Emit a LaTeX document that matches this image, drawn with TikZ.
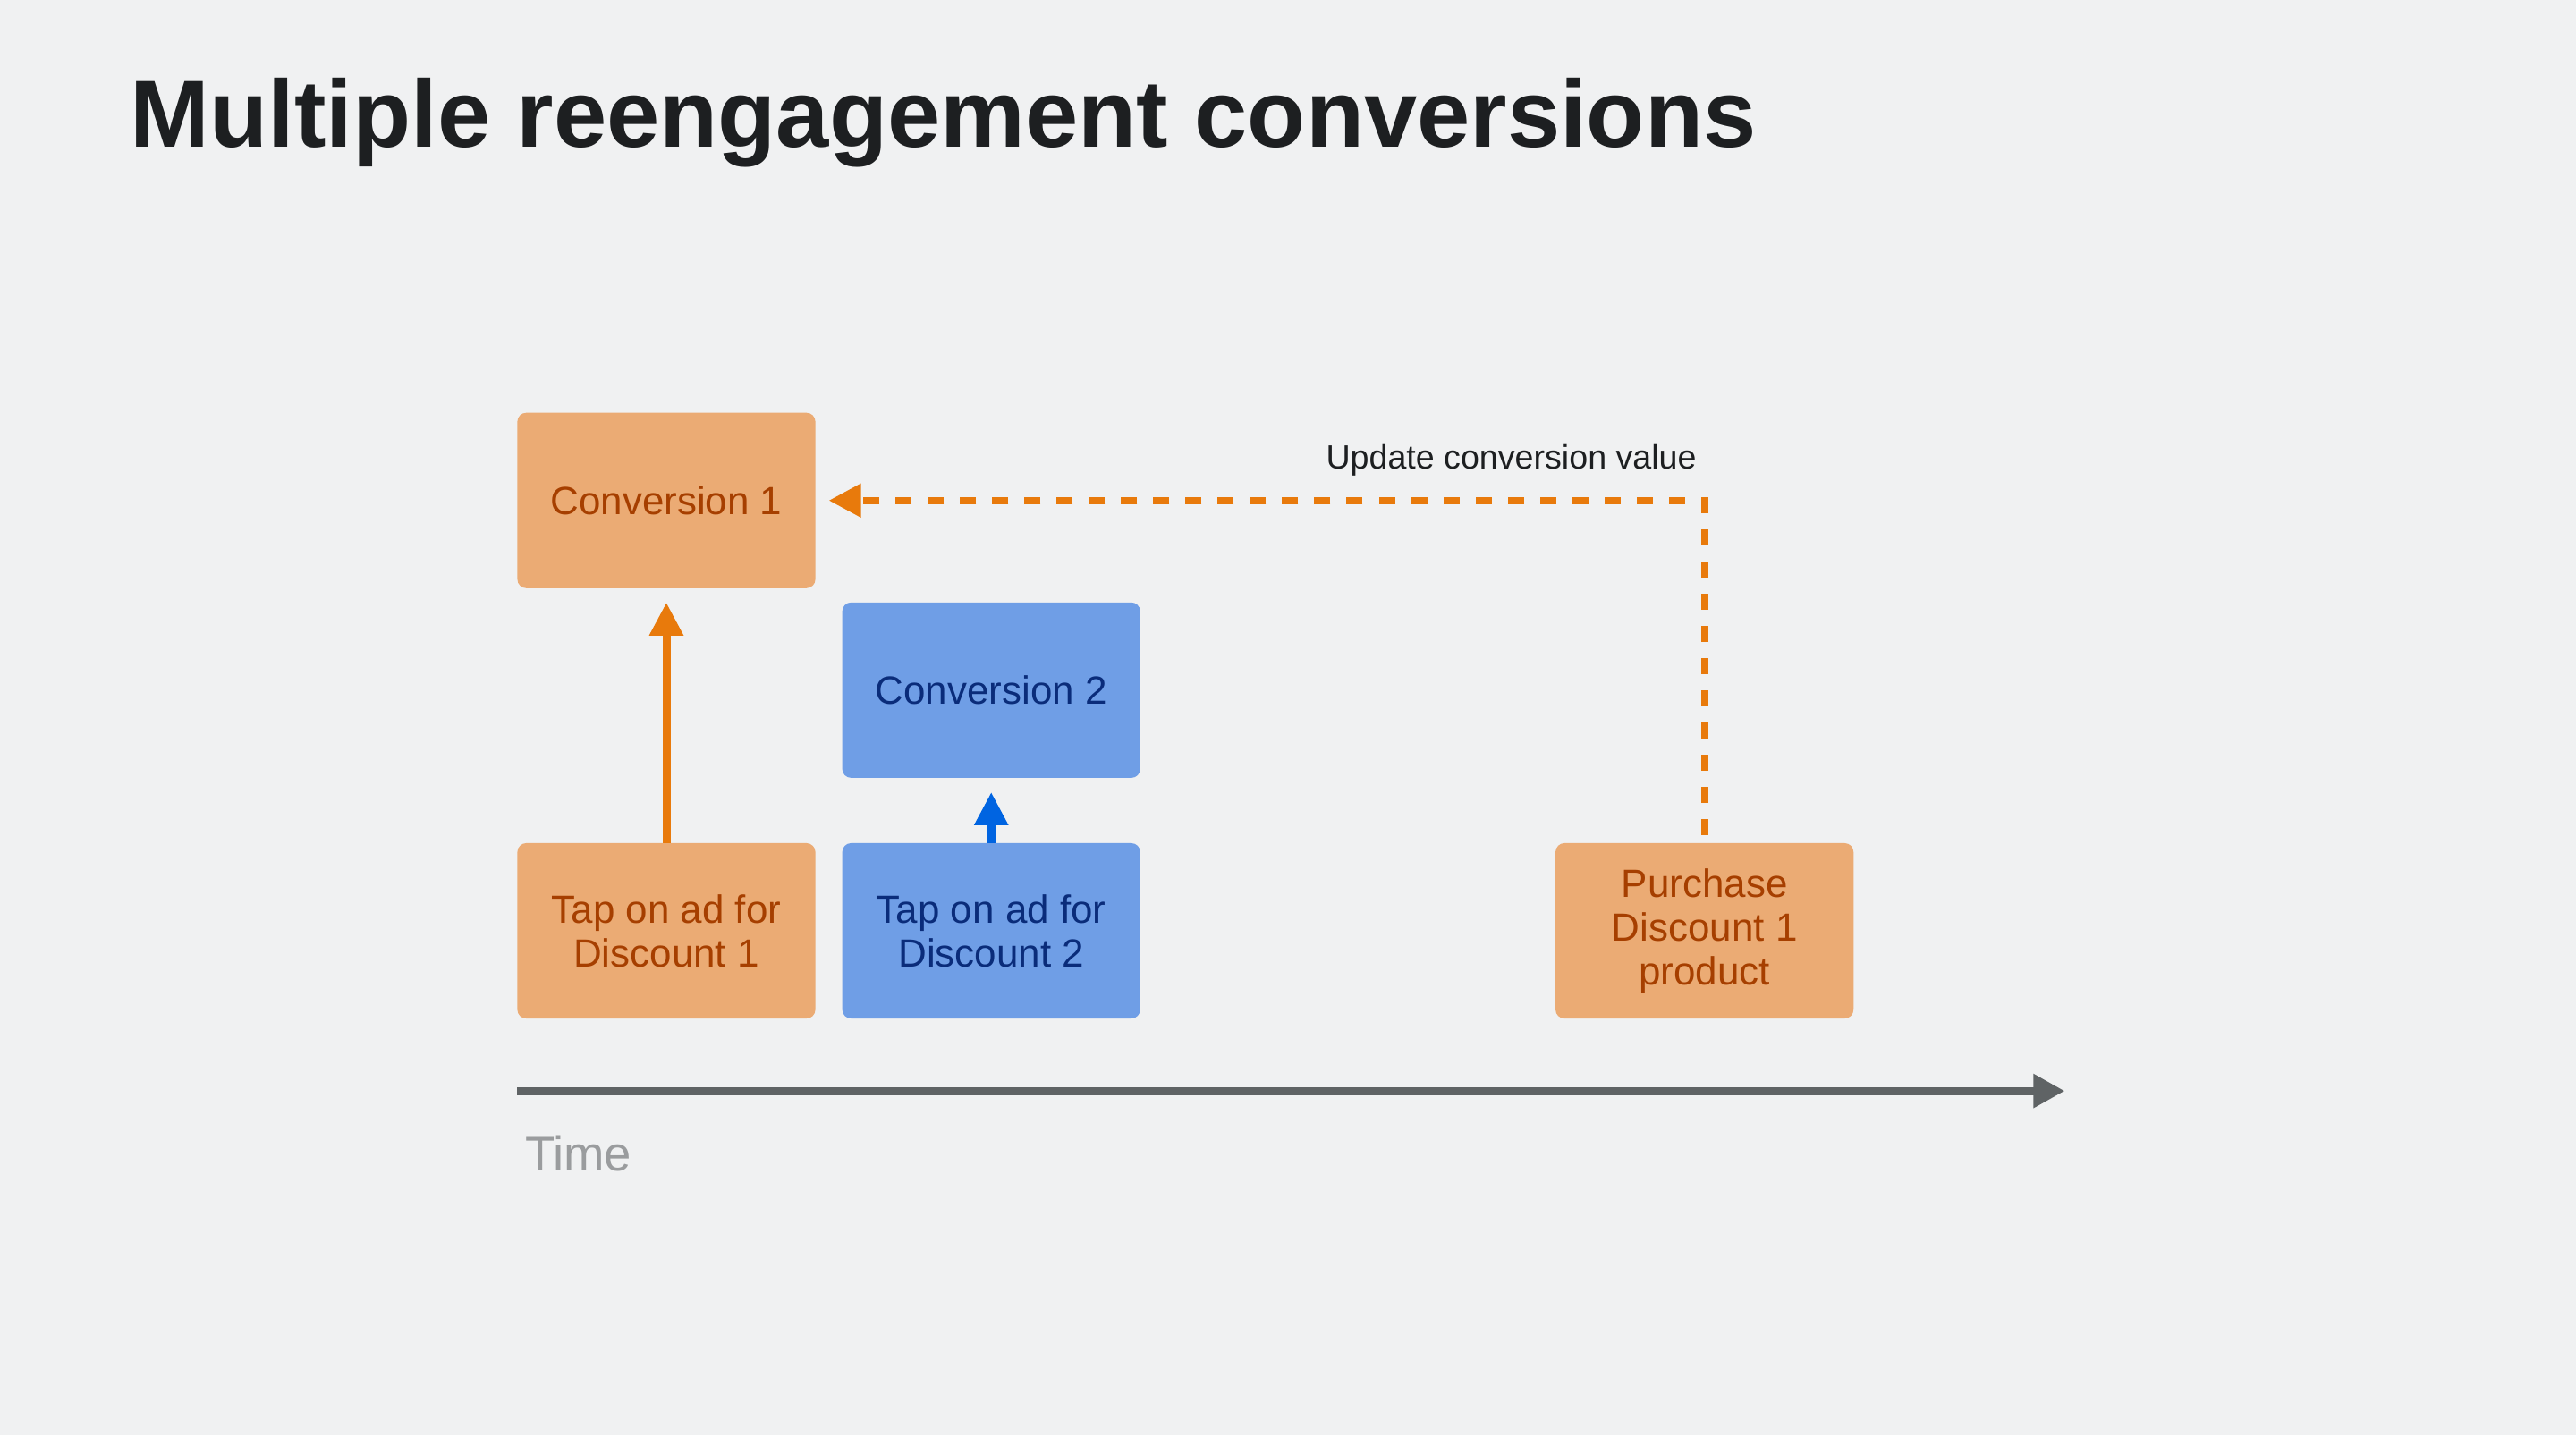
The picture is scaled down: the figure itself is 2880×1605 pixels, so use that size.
\documentclass[tikz,border=0pt]{standalone}
\usepackage{fontspec}
\setmainfont{Liberation Sans}
\usetikzlibrary{positioning, arrows.meta}

\definecolor{bgcol}{HTML}{F0F1F2}
\definecolor{boxorange}{HTML}{EBAB74}
\definecolor{textorange}{HTML}{A63F00}
\definecolor{lineorange}{HTML}{E87A0C}
\definecolor{boxblue}{HTML}{6F9EE6}
\definecolor{textblue}{HTML}{0A2C7A}
\definecolor{lineblue}{HTML}{0064E1}
\definecolor{axisgray}{HTML}{5F6365}
\definecolor{timegray}{HTML}{9A9C9E}
\definecolor{inkdark}{HTML}{1D1F21}

\tikzset{%
  box/.style={rectangle, rounded corners=0.1cm, minimum width=3.33cm,
    minimum height=1.96cm, inner sep=0pt, outer sep=0pt, align=center,
    font=\fontsize{12.5}{13.9}\selectfont}, % all event boxes have the same size
  orangebox/.style={box, fill=boxorange, text=textorange},
  bluebox/.style={box, fill=boxblue, text=textblue},
  title/.style={inner sep=0pt, text=inkdark, font=\fontsize{30.3}{36}\selectfont\bfseries},
  updlabel/.style={inner sep=0pt, text=inkdark, font=\fontsize{10.7}{13}\selectfont},
  timelabel/.style={inner sep=0pt, text=timegray, font=\fontsize{15.5}{18}\selectfont},
  uparrow/.style={line width=0.09cm, -{Triangle[width=0.36cm,length=0.37cm]}, shorten >=0.16cm}
}

\begin{document}
\begin{tikzpicture}[x=0.01cm, y=-0.01cm]
\useasboundingbox[fill=bgcol] (0,0) rectangle (2880,1605);

\node[title, anchor=base west] (head) at (145,164) {Multiple reengagement conversions};

% bottom row, left to right
\node[orangebox] (tap1) at (745,1041) {Tap on ad for\\Discount 1};
\node[bluebox, right=0.3cm of tap1] (tap2) {Tap on ad for\\Discount 2};
\node[orangebox, right=4.64cm of tap2] (buy) {Purchase\\Discount 1\\product};

% conversions
\node[orangebox, above=2.85cm of tap1] (conv1) {Conversion 1};
\node[bluebox, above=0.73cm of tap2] (conv2) {Conversion 2};

\draw[uparrow, lineorange] (tap1.north) -- (conv1.south);
\draw[uparrow, lineblue] (tap2.north) -- (conv2.south);

\draw[lineorange, line width=0.08cm, dash pattern=on 0.18cm off 0.18cm,
  -{Triangle[width=0.36cm,length=0.36cm]}, shorten <=0.09cm, shorten >=0.15cm]
  (buy.north) |- node[updlabel, pos=0.5, anchor=base east, xshift=-0.05cm, yshift=0.35cm] (upd) {Update conversion value} (conv1.east);

% time axis
\coordinate (t0) at ([yshift=-0.81cm]tap1.south west);
\coordinate (t1) at ([xshift=17.29cm]t0);
\draw[axisgray, line width=0.09cm, -{Triangle[width=0.36cm,length=0.35cm]}] (t0) -- (t1);
\node[timelabel, anchor=base west] (time) at ([xshift=0.08cm, yshift=-0.89cm]t0) {Time};
\end{tikzpicture}
\end{document}
